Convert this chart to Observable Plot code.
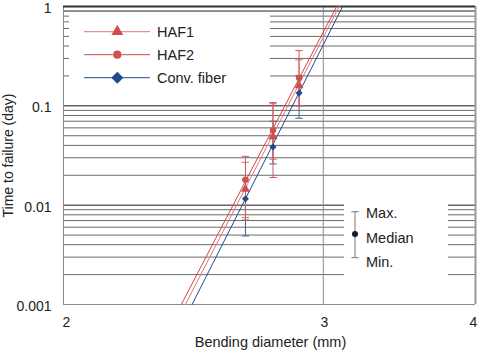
<!DOCTYPE html>
<html><head><meta charset="utf-8">
<script src="https://cdn.jsdelivr.net/npm/d3@7"></script>
<script src="https://cdn.jsdelivr.net/npm/@observablehq/plot@0.6"></script>
<style>
body{margin:0;background:#fff;}
#wrap{position:relative;width:479px;height:350px;font-family:"Liberation Sans",Arial,sans-serif;color:#222;}
.box{position:absolute;background:#fff;}
.box svg{display:block;overflow:visible;}
</style></head><body><div id="wrap"></div>
<script>
// ---- data ----
const diameters = [2.631, 2.753, 2.877];
const haf1Median = [0.0145, 0.049, 0.16];
const haf1Max    = [0.027, 0.105, 0.29];
const haf1Min    = [0.0075, 0.029, 0.10];
const haf2Median = [0.018, 0.057, 0.192];
const haf2Max    = [0.031, 0.108, 0.36];
const haf2Min    = [0.0071, 0.019, 0.10];
const convMedian = [0.0116, 0.0385, 0.1345];
const convMax    = [0.018, 0.07, 0.2];
const convMin    = [0.0049, 0.026, 0.075];
const fitTime = [0.001, 1];
const haf1FitD = [2.392, 3.085];
const haf2FitD = [2.377, 3.071];
const convFitD = [2.417, 3.104];
const seriesNames = ["HAF1", "HAF2", "Conv. fiber"];
const yTicks = [0.001, 0.01, 0.1, 1];
const yTickLabels = ["0.001", "0.01", "0.1", "1"];
const xTicks = [2, 3, 4];
const xTickLabels = ["2", "3", "4"];
const minorMult = [2, 3, 4, 5, 6, 7, 8, 9];
const minorDecades = [0.001, 0.01, 0.1];

// ---- style ----
const lineColor = {"HAF1": "#e27777", "HAF2": "#d04848", "Conv. fiber": "#1f4b8f"};
const markColor = {"HAF1": "#cf4d4d", "HAF2": "#d05050", "Conv. fiber": "#1f4b8f"};
const barColor  = {"HAF1": "#d86b6b", "HAF2": "#d25a5a", "Conv. fiber": "#3b5f96"};
const symbols   = {"HAF1": "triangle", "HAF2": "circle", "Conv. fiber": "diamond2"};
const radius    = {"HAF1": 3.4, "HAF2": 3.2, "Conv. fiber": 3.2};
const xLabelShift = [3, 1, -2];

const table = {
  "HAF1": {median: haf1Median, max: haf1Max, min: haf1Min, fit: haf1FitD},
  "HAF2": {median: haf2Median, max: haf2Max, min: haf2Min, fit: haf2FitD},
  "Conv. fiber": {median: convMedian, max: convMax, min: convMin, fit: convFitD}
};
const points = s => diameters.map((d, i) => ({d, median: table[s].median[i], max: table[s].max[i], min: table[s].min[i]}));
const fitRows = s => table[s].fit.map((d, i) => ({d, t: fitTime[i]}));
const minor = minorDecades.flatMap(k => minorMult.map(m => +(k * m).toPrecision(3))).concat([0.9]);

const capSymbol = {draw(ctx, size) { const w = Math.sqrt(size / Math.PI); ctx.moveTo(-w, 0); ctx.lineTo(w, 0); }};

const drawOrder = ["Conv. fiber", "HAF1", "HAF2"];
const marks = [
  Plot.ruleY(minor, {stroke: "#6a6a6a", strokeWidth: 1}),
  Plot.ruleY([0.1, 0.01], {stroke: "#1a1a1a", strokeWidth: 1}),
  Plot.ruleX([3], {stroke: "#8a8a8a", strokeWidth: 1}),
  Plot.ruleY([0.001], {stroke: "#8a8a8a", strokeWidth: 1}),
  Plot.ruleX([2], {stroke: "#8a8a8a", strokeWidth: 1}),
  Plot.ruleX([4], {stroke: "#999", strokeWidth: 2}),
  Plot.ruleY([1], {stroke: "#333", strokeWidth: 2}),
];
for (const s of drawOrder) marks.push(Plot.line(fitRows(s), {x: "d", y: "t", stroke: lineColor[s], strokeWidth: 1}));
for (const s of drawOrder) {
  marks.push(Plot.ruleX(points(s), {x: "d", y1: "min", y2: "max", stroke: barColor[s], strokeWidth: 1}));
  marks.push(Plot.dot(points(s), {x: "d", y: "max", symbol: capSymbol, r: 3.7, stroke: barColor[s], strokeWidth: 1, fill: "none"}));
  marks.push(Plot.dot(points(s), {x: "d", y: "min", symbol: capSymbol, r: 3.7, stroke: barColor[s], strokeWidth: 1, fill: "none"}));
}
for (const s of drawOrder) marks.push(Plot.dot(points(s), {x: "d", y: "median", symbol: symbols[s], r: radius[s], fill: markColor[s], stroke: "none"}));
marks.push(
  Plot.axisY({ticks: yTicks, tickFormat: v => yTickLabels[yTicks.indexOf(v)], tickSize: 0, tickPadding: 12, dy: 2, label: null, fontSize: 14})
);
xTicks.forEach((t, i) => marks.push(
  Plot.axisX({ticks: [t], tickFormat: v => xTickLabels[xTicks.indexOf(v)], tickSize: 0, tickPadding: 13, dx: xLabelShift[i], label: null, fontSize: 14})
));
marks.push(
  Plot.text(["Time to failure (day)"], {frameAnchor: "left", dx: -55, rotate: -90, textAnchor: "middle", lineAnchor: "middle", fontSize: 14}),
  Plot.text(["Bending diameter (mm)"], {frameAnchor: "bottom", dy: 37.7, dx: 1, textAnchor: "middle", lineAnchor: "middle", fontSize: 14.5})
);

const chart = Plot.plot({
  width: 479, height: 350,
  marginLeft: 63, marginRight: 4, marginTop: 6, marginBottom: 46,
  style: {fontFamily: "Liberation Sans, Arial, sans-serif", fontSize: "14px", color: "#222", background: "#fff"},
  x: {type: "pow", exponent: -0.55, domain: [2, 4]},
  y: {type: "log", domain: [0.001, 1]},
  marks
});
const wrap = document.getElementById("wrap");
wrap.appendChild(chart);

// ---- legend (series) ----
const leg = document.createElement("div");
leg.className = "box";
leg.style.cssText = "left:69px;top:12px;width:201px;height:88px;";
const lsvg = d3.select(leg).append("svg").attr("width", 201).attr("height", 88);
seriesNames.forEach((s, i) => {
  const y = 19.7 + i * 23;
  lsvg.append("line").attr("x1", 15).attr("x2", 81).attr("y1", y).attr("y2", y).attr("stroke", lineColor[s]).attr("stroke-width", 1);
  const typ = {"HAF1": d3.symbolTriangle, "HAF2": d3.symbolCircle, "Conv. fiber": d3.symbolDiamond2}[s];
  const r = {"HAF1": 4.4, "HAF2": 4.1, "Conv. fiber": 5.4}[s];
  lsvg.append("path").attr("d", d3.symbol(typ, Math.PI * r * r)()).attr("transform", `translate(48.3,${y})`).attr("fill", markColor[s]);
  lsvg.append("text").attr("x", 88).attr("y", y).attr("dy", "0.35em").attr("font-size", 14.5).attr("fill", "#222").text(s);
});
wrap.appendChild(leg);

// ---- legend (max / median / min) ----
const key = document.createElement("div");
key.className = "box";
key.style.cssText = "left:344px;top:199px;width:104px;height:100px;";
const ksvg = d3.select(key).append("svg").attr("width", 104).attr("height", 100);
const kx = 11;
ksvg.append("line").attr("x1", kx).attr("x2", kx).attr("y1", 12.7).attr("y2", 58.7).attr("stroke", "#777");
[12.7, 58.7].forEach(y => ksvg.append("line").attr("x1", kx - 3.7).attr("x2", kx + 3.7).attr("y1", y).attr("y2", y).attr("stroke", "#777"));
ksvg.append("circle").attr("cx", kx).attr("cy", 35).attr("r", 3).attr("fill", "#1a1a1a");
[["Max.", 14.3], ["Median", 38.7], ["Min.", 63.3]].forEach(([t, y]) =>
  ksvg.append("text").attr("x", 22).attr("y", y).attr("dy", "0.35em").attr("font-size", 14.5).attr("fill", "#222").text(t));
wrap.appendChild(key);
</script></body></html>
